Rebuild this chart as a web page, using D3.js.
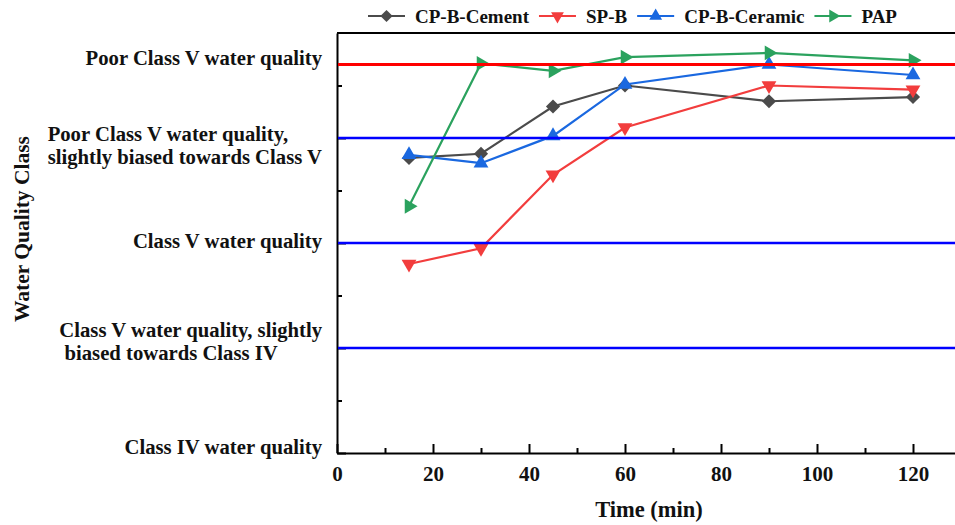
<!DOCTYPE html>
<html>
<head>
<meta charset="utf-8">
<script src="https://cdn.jsdelivr.net/npm/d3@7"></script>
<style>
  body { margin: 0; background: #fff; }
  text { font-family: "Liberation Serif", "Times New Roman", serif; font-weight: bold; fill: #111; }
</style>
</head>
<body>
<div id="chart"></div>
<script>
var times = [15, 30, 45, 60, 90, 120];
var cement = [3.81, 3.85, 4.30, 4.50, 4.35, 4.39];
var spb = [2.80, 2.95, 3.65, 4.10, 4.50, 4.46];
var ceramic = [3.84, 3.76, 4.02, 4.51, 4.70, 4.60];
var pap = [3.35, 4.71, 4.64, 4.77, 4.81, 4.74];

var classValues = [1, 2, 3, 4, 4.7];
var classLabels = [
    ["Class IV water quality"],
    ["Class V water quality, slightly", " biased towards Class IV"],
    ["Class V water quality"],
    ["Poor Class V water quality,", "slightly biased towards Class V"],
    ["Poor Class V water quality"]
];
var blueLevels = [2, 3, 4];
var redLevel = 4.7;
var xTicks = [0, 20, 40, 60, 80, 100, 120];
var xMinor = [10, 30, 50, 70, 90, 110, 130];
var yMinor = [1.5, 2.5, 3.5, 4.5];

(function() {
    var width = 955,
        height = 525;

    var svg = d3.select("#chart")
        .append("svg")
        .attr("width", width)
        .attr("height", height)

    var left = 337, top = 33, bottom = 453;

    var x = d3.scaleLinear().domain([0, 120]).range([left, 913])
    var xMax = x.invert(width)
    x.domain([0, xMax]).range([left, width])

    var y = d3.scaleLinear().domain([1, 5]).range([bottom, top])

    var series = [
        { name: "CP-B-Cement", values: cement, color: "#4b4b4b", shape: "diamond" },
        { name: "SP-B", values: spb, color: "#f23d3d", shape: "down" },
        { name: "CP-B-Ceramic", values: ceramic, color: "#1a68e0", shape: "up" },
        { name: "PAP", values: pap, color: "#2ba25e", shape: "right" }
    ]

    function symbolPath(shape, scale) {
        if (shape == "diamond") {
            return { d: d3.symbol(d3.symbolSquare, 100 * scale)(), rot: 45 }
        }
        var d = d3.symbol(d3.symbolTriangle, 95 * scale)()
        var rot = shape == "down" ? 180 : (shape == "right" ? 90 : 0)
        return { d: d, rot: rot }
    }

    // frame
    svg.append("line")
        .attr("x1", left).attr("x2", width)
        .attr("y1", top).attr("y2", top)
        .attr("stroke", "#000").attr("stroke-width", 2)

    var xAxis = svg.append("g")
        .attr("transform", "translate(0," + bottom + ")")
        .call(d3.axisBottom(x).tickValues(xTicks).tickSizeInner(-9).tickSizeOuter(0).tickPadding(13))
    xAxis.select(".domain").attr("stroke-width", 2)
    xAxis.selectAll(".tick line").attr("stroke-width", 2)
    xAxis.selectAll(".tick text")
        .style("font-size", "21px")
        .style("font-family", "Liberation Serif")

    svg.append("g")
        .attr("transform", "translate(0," + bottom + ")")
        .call(d3.axisBottom(x).tickValues(xMinor.filter(function(d) { return d < xMax })).tickSize(-5).tickFormat(""))
        .call(function(g) { g.select(".domain").remove() })
        .selectAll("line").attr("stroke-width", 2)

    var yAxis = svg.append("g")
        .attr("transform", "translate(" + left + ",0)")
        .call(d3.axisLeft(y).tickValues(classValues).tickSizeInner(-9).tickSizeOuter(0).tickFormat(""))
    yAxis.select(".domain").attr("stroke-width", 2)
    yAxis.selectAll(".tick line").attr("stroke-width", 2)

    svg.append("g")
        .attr("transform", "translate(" + left + ",0)")
        .call(d3.axisLeft(y).tickValues(yMinor).tickSize(-5).tickFormat(""))
        .call(function(g) { g.select(".domain").remove() })
        .selectAll("line").attr("stroke-width", 2)

    // class labels, left aligned block with widest line ending near the axis
    var shifts = [-6, -7, -2, 7, -7]
    var labelRight = 322, lineGap = 23
    classValues.forEach(function(v, i) {
        var lines = classLabels[i]
        var t = svg.append("text")
            .style("font-size", "20.7px")
        lines.forEach(function(s, j) {
            t.append("tspan")
                .attr("dy", j == 0 ? 0 : lineGap)
                .text(s)
        })
        var maxW = 0
        t.selectAll("tspan").each(function() {
            maxW = Math.max(maxW, this.getComputedTextLength())
        })
        var cy = y(v) + shifts[i] - (lines.length - 1) * lineGap / 2
        t.attr("y", cy + 7)
        t.selectAll("tspan").attr("x", labelRight - maxW)
    })

    svg.append("text")
        .attr("transform", "translate(29," + 229 + ") rotate(-90)")
        .attr("text-anchor", "middle")
        .style("font-size", "21.5px")
        .text("Water Quality Class")

    svg.append("text")
        .attr("x", x(65))
        .attr("y", 517)
        .attr("text-anchor", "middle")
        .style("font-size", "22.5px")
        .text("Time (min)")

    // series
    var line = d3.line()
        .x(function(d) { return x(d[0]) })
        .y(function(d) { return y(d[1]) })

    series.forEach(function(s) {
        var pts = times.map(function(t, i) { return [t, s.values[i]] })
        svg.append("path")
            .datum(pts)
            .attr("fill", "none")
            .attr("stroke", s.color)
            .attr("stroke-width", 2.2)
            .attr("d", line)
        var sym = symbolPath(s.shape, 1)
        svg.selectAll(".m-" + s.shape)
            .data(pts)
            .enter().append("path")
            .attr("class", "m-" + s.shape)
            .attr("d", sym.d)
            .attr("fill", s.color)
            .attr("transform", function(d) {
                return "translate(" + x(d[0]) + "," + y(d[1]) + ") rotate(" + sym.rot + ")"
            })
    })

    // reference lines
    svg.selectAll(".level")
        .data(blueLevels)
        .enter().append("line")
        .attr("class", "level")
        .attr("x1", left + 1).attr("x2", width)
        .attr("y1", function(d) { return y(d) })
        .attr("y2", function(d) { return y(d) })
        .attr("stroke", "#0000ff")
        .attr("stroke-width", 2.6)

    svg.append("line")
        .attr("x1", left + 1).attr("x2", width)
        .attr("y1", y(redLevel)).attr("y2", y(redLevel))
        .attr("stroke", "#ff0000")
        .attr("stroke-width", 3.2)

    // legend
    var lx = 368, ly = 16
    series.forEach(function(s) {
        var g = svg.append("g").attr("transform", "translate(" + lx + "," + ly + ")")
        g.append("line")
            .attr("x1", 0).attr("x2", 37)
            .attr("stroke", s.color).attr("stroke-width", 2.2)
        var sym = symbolPath(s.shape, 0.75)
        g.append("path")
            .attr("d", sym.d)
            .attr("fill", s.color)
            .attr("transform", "translate(18.5,0) rotate(" + sym.rot + ")")
        var t = g.append("text")
            .attr("x", 47)
            .attr("y", 6.5)
            .style("font-size", "19px")
            .text(s.name)
        lx += 47 + t.node().getComputedTextLength() + 10
    })

})();
</script>
</body>
</html>
